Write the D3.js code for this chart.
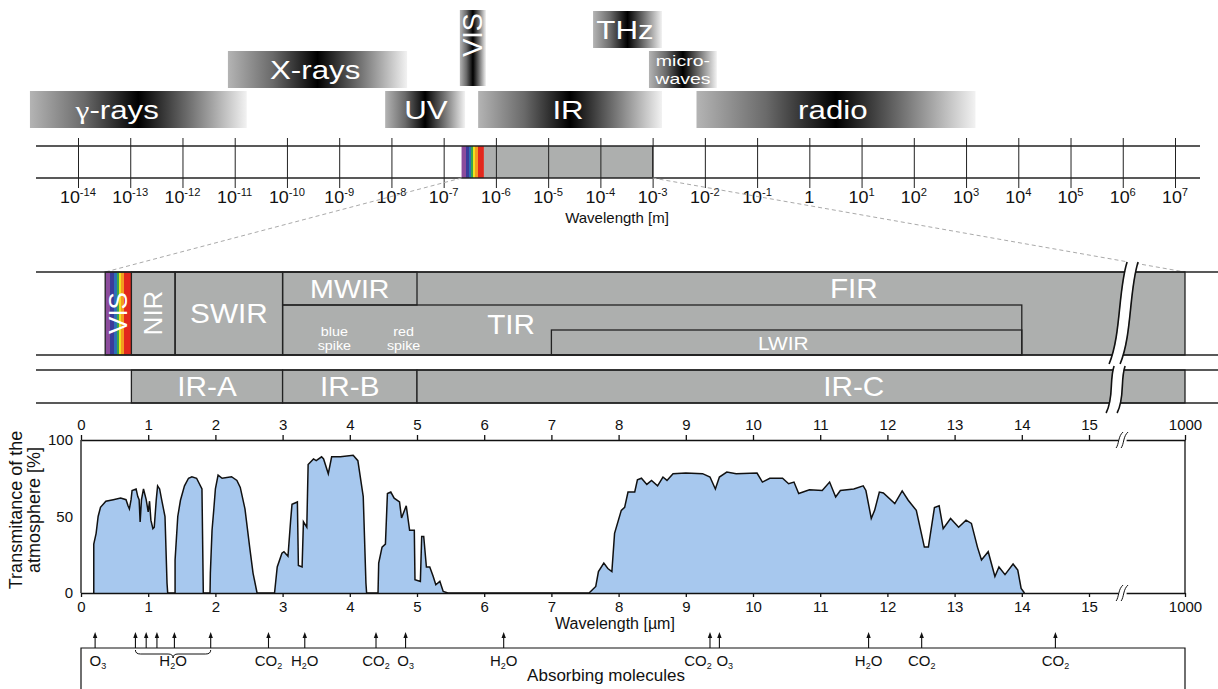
<!DOCTYPE html>
<html>
<head>
<meta charset="utf-8">
<script src="https://d3js.org/d3.v7.min.js"></script>
<style>
  body { margin: 0; background: #fff; }
  svg text { font-family: "Liberation Sans", Arial, Helvetica, sans-serif; }
</style>
</head>
<body>
<div id="chart"></div>
<script>
"use strict"

var width = 1218, height = 689;

// --- spectrum overview (exponents of wavelength in m) ---
var bandNames   = ["γ-rays", "X-rays", "UV", "VIS", "IR", "THz", "micro-|waves", "radio"];
var bandFrom    = [-14.92, -11.13, -8.12, -6.69, -6.34, -4.14, -3.07, -2.16];
var bandTo      = [-10.77, -7.70, -6.59, -6.19, -2.82, -2.82, -1.77, 3.18];
var bandLabelAt = [-13.25, -9.46, -7.34, -6.44, -4.62, -3.53, -2.42, 0.45];
var bandRow     = [2, 1, 2, -1, 2, 0, 1, 2];
var decades     = d3.range(-14, 8);
var visibleM    = [2.2e-7, 5.9e-7];
var infraredM   = [5.9e-7, 1e-3];

var rainbowColors  = ["#8c4c9c", "#3b3b99", "#2c6fb6", "#3aa54b", "#f1e11f", "#f39b1f", "#e2281d"];
var rainbowWeights = [12, 10, 7, 6, 6, 7, 18];

// --- infrared sub bands (µm) ---
var visibleUm  = [0.36, 0.75];
var subNames   = ["NIR", "SWIR", "MWIR", "TIR", "LWIR"];
var subFrom    = [0.75, 1.4, 3, 3, 7];
var subTo      = [1.4, 3, 5, 14, 14];
var cieNames   = ["IR-A", "IR-B", "IR-C"];
var cieFrom    = [0.75, 3, 5];
var cieTo      = [3, 5, 1000];
var umTicks    = [0, 1, 2, 3, 4, 5, 6, 7, 8, 9, 10, 11, 12, 13, 14, 15, 1000];

// --- transmittance of the atmosphere [µm, %] ---
var transmittance = [
  [0.19,0],[0.19,32],[0.225,39],[0.255,50],[0.29,56],[0.37,60],[0.48,61],[0.59,62],[0.67,61],[0.70,57],
  [0.72,55],[0.745,61],[0.76,67],[0.82,68],[0.845,63],[0.865,61],[0.88,46.5],[0.90,61],[0.93,68],[0.97,61],
  [1.0,53],[1.02,60],[1.04,47.6],[1.07,42],[1.09,43],[1.12,61],[1.14,70],[1.17,68],[1.20,61],[1.25,50],
  [1.28,6.5],[1.29,0],
  [1.40,0],[1.40,21.6],[1.44,50],[1.48,60.6],[1.54,70],[1.60,75],[1.65,76],[1.72,75],[1.80,68],[1.82,0],
  [1.92,0],[1.925,13],[1.95,41],[1.975,54],[2.0,68],[2.04,77],[2.10,75],[2.24,76],[2.32,73.6],[2.37,69],
  [2.44,55],[2.51,30],[2.56,13],[2.62,0],
  [2.88,0],[2.92,17],[2.99,26],[3.02,27],[3.08,24],[3.12,47.6],[3.14,58],[3.22,59.5],[3.235,18],[3.29,17],
  [3.31,46.5],[3.36,43],[3.38,84],[3.46,87.6],[3.50,86.5],[3.58,89],[3.61,87.6],[3.68,78],[3.73,89],[3.86,89],
  [4.05,90],[4.12,86.5],[4.20,63],[4.24,6.5],[4.25,0],
  [4.42,0],[4.43,19.5],[4.48,30],[4.53,32],[4.56,65],[4.61,66],[4.66,62],[4.74,59.5],[4.77,49],[4.84,57],
  [4.89,41],[4.96,41],[4.97,8.7],[5.05,7.6],[5.07,37],[5.10,37],[5.14,17],[5.19,17],[5.24,11],[5.28,5.4],
  [5.34,7.6],[5.39,1],[5.46,0],
  [7.56,0],[7.66,4.3],[7.70,14],[7.78,19.5],[7.84,16],[7.90,14],[7.94,39],[8.04,54],[8.09,56],[8.14,66],
  [8.24,66],[8.28,74],[8.34,75],[8.42,71],[8.49,73.6],[8.58,70],[8.66,75.8],[8.72,73.6],[8.81,78],[9.0,78.4],
  [9.25,78],[9.36,75.8],[9.44,68],[9.50,75.8],[9.61,79],[9.75,78],[10.06,78.4],[10.14,72.5],[10.25,75],[10.44,75],
  [10.53,71.4],[10.61,72.5],[10.68,65],[10.84,67.5],[11.03,67],[11.14,72.5],[11.23,62.8],[11.30,67],[11.5,68],[11.64,70],
  [11.68,67],[11.76,48.7],[11.81,54],[11.88,66],[11.94,65.4],[12.11,58.4],[12.22,66.7],[12.31,60.6],[12.43,54],[12.55,30],
  [12.61,30],[12.7,55.8],[12.77,57],[12.83,42],[12.94,48.7],[13.06,43],[13.17,47.6],[13.25,45.5],[13.34,30],[13.4,21.6],
  [13.5,27],[13.6,10.8],[13.66,17],[13.75,12],[13.87,19],[13.94,15],[13.99,3],[14.04,0]
];

// --- absorbing molecules ---
var arrowsAt   = [0.21, 0.81, 0.97, 1.13, 1.39, 1.93, 2.79, 3.33, 4.39, 4.83, 6.29, 9.36, 9.50, 11.72, 12.51, 14.5];
var molName    = ["O", "H", "CO", "H", "CO", "O", "H", "CO", "O", "H", "CO", "CO"];
var molSub     = ["3", "2", "2", "2", "2", "3", "2", "2", "3", "2", "2", "2"];
var molTail    = ["", "O", "", "O", "", "", "O", "", "", "O", "", ""];
var molLabelAt = [0.25, 1.37, 2.79, 3.33, 4.39, 4.83, 6.29, 9.18, 9.58, 11.72, 12.51, 14.5];
var waterBrace = [0.81, 1.93];

var grey = "#adafae";

var svg = d3.select("#chart").append("svg")
    .attr("width", width)
    .attr("height", height);

var defs = svg.append("defs");

var barGrad = defs.append("linearGradient").attr("id", "bar");
[[0, "#b4b4b4"], [0.25, "#6a6a6a"], [0.5, "#000"], [0.75, "#777"], [1, "#f2f2f2"]].forEach(function(s) {
  barGrad.append("stop").attr("offset", s[0]).attr("stop-color", s[1]);
});

var rb = defs.append("linearGradient").attr("id", "rainbow");
var tot = d3.sum(rainbowWeights), acc = 0;
rainbowColors.forEach(function(c, i) {
  rb.append("stop").attr("offset", acc / tot).attr("stop-color", c);
  acc += rainbowWeights[i];
  rb.append("stop").attr("offset", acc / tot).attr("stop-color", c);
});

// text helper, sx stretches the glyphs horizontally like the original artwork
function label(g, x, y, s, size, opt) {
  opt = opt || {};
  var tr = "translate(" + x + "," + y + ")" + (opt.rot ? " rotate(-90)" : "") +
           (opt.sx ? " scale(" + opt.sx + ",1)" : "");
  return g.append("text")
      .attr("transform", tr)
      .attr("text-anchor", "middle")
      .attr("fill", opt.fill || "#111")
      .attr("font-size", size)
      .text(s);
}

// ================= top: whole spectrum =================
var xLog = d3.scaleLog().domain([1e-14, 1e7]).range([78, 1175]);
var rowY = [11, 51, 91], rowH = 37;

var bands = svg.append("g");
bandNames.forEach(function(name, i) {
  var x0 = xLog(Math.pow(10, bandFrom[i])), x1 = xLog(Math.pow(10, bandTo[i]));
  var y0 = bandRow[i] < 0 ? 10 : rowY[bandRow[i]];
  var h = bandRow[i] < 0 ? 76 : rowH;
  bands.append("rect")
      .attr("x", x0).attr("y", y0)
      .attr("width", x1 - x0).attr("height", h)
      .attr("fill", "url(#bar)");
  var lx = xLog(Math.pow(10, bandLabelAt[i]));
  if (bandRow[i] < 0) {
    label(bands, lx + 9, y0 + 25, name, 27, { rot: true, fill: "#fff" });
  } else if (name.indexOf("|") >= 0) {
    var parts = name.split("|");
    label(bands, lx, y0 + 15, parts[0], 15, { fill: "#fff", sx: 1.3 });
    label(bands, lx, y0 + 33, parts[1], 15, { fill: "#fff", sx: 1.3 });
  } else if (name.charAt(0) === "γ") {
    var g = label(bands, lx, y0 + h / 2 + 9, "", 25, { fill: "#fff", sx: 1.25 });
    g.append("tspan").style("font-family", "'Liberation Serif', 'DejaVu Serif', serif").text("γ");
    g.append("tspan").text(name.slice(1));
  } else {
    label(bands, lx, y0 + h / 2 + 9, name, 25, { fill: "#fff", sx: 1.25 });
  }
});

var logAxis = svg.append("g");
logAxis.append("rect")
    .attr("x", xLog(visibleM[0])).attr("y", 146)
    .attr("width", xLog(visibleM[1]) - xLog(visibleM[0])).attr("height", 32)
    .attr("fill", "url(#rainbow)");
logAxis.append("rect")
    .attr("x", xLog(infraredM[0])).attr("y", 146)
    .attr("width", xLog(infraredM[1]) - xLog(infraredM[0])).attr("height", 32)
    .attr("fill", grey);
[146, 178].forEach(function(y) {
  logAxis.append("line").attr("x1", 36).attr("x2", 1200).attr("y1", y).attr("y2", y)
      .attr("stroke", "#222").attr("stroke-width", 1.3);
});
logAxis.append("line")
    .attr("x1", xLog(infraredM[1])).attr("x2", xLog(infraredM[1]))
    .attr("y1", 146).attr("y2", 178).attr("stroke", "#222");

var ticks = logAxis.append("g")
    .attr("transform", "translate(0,138)")
    .call(d3.axisBottom(xLog).tickValues(decades.map(function(e) { return Math.pow(10, e); }))
        .tickSize(50).tickFormat(""));
ticks.select(".domain").remove();
ticks.selectAll("line").attr("stroke", "#222");

decades.forEach(function(e) {
  var t = logAxis.append("text")
      .attr("transform", "translate(" + xLog(Math.pow(10, e)) + ",203) scale(1.12,1)")
      .attr("text-anchor", "middle").attr("font-size", 16).attr("fill", "#111");
  if (e === 0) { t.text("1"); return; }
  t.append("tspan").text("10");
  t.append("tspan").attr("dy", -7).attr("font-size", 10).text(e);
});
label(svg, 617, 223, "Wavelength [m]", 15);

// ================= infrared detail =================
var xUm = d3.scaleLinear().domain([0, 15.8, 1000]).range([81, 81 + 15.8 * 67.2, 1185]);

svg.append("g").selectAll("line")
    .data([[xLog(visibleM[0]), 178, xUm(visibleUm[0]), 272], [xLog(infraredM[1]), 178, xUm(1000), 272]])
  .join("line")
    .attr("x1", function(d) { return d[0]; }).attr("y1", function(d) { return d[1]; })
    .attr("x2", function(d) { return d[2]; }).attr("y2", function(d) { return d[3]; })
    .attr("stroke", "#aaa").attr("stroke-dasharray", "4,3");

var det = svg.append("g");
var top1 = 272, bot1 = 355, mid1 = 305, lw1 = 330;

det.append("rect").attr("x", xUm(visibleUm[1])).attr("y", top1)
    .attr("width", xUm(1000) - xUm(visibleUm[1])).attr("height", bot1 - top1).attr("fill", grey);
det.append("rect").attr("x", xUm(visibleUm[0])).attr("y", top1)
    .attr("width", xUm(visibleUm[1]) - xUm(visibleUm[0])).attr("height", bot1 - top1)
    .attr("fill", "url(#rainbow)");

var subY = { NIR: [top1, bot1], SWIR: [top1, bot1], MWIR: [top1, mid1], TIR: [mid1, bot1], LWIR: [lw1, bot1] };
subNames.forEach(function(n, i) {
  det.append("rect")
      .attr("x", xUm(subFrom[i])).attr("y", subY[n][0])
      .attr("width", xUm(subTo[i]) - xUm(subFrom[i])).attr("height", subY[n][1] - subY[n][0])
      .attr("fill", "none").attr("stroke", "#222").attr("stroke-width", 1.3);
});
det.append("rect").attr("x", xUm(visibleUm[0])).attr("y", top1)
    .attr("width", xUm(1000) - xUm(visibleUm[0])).attr("height", bot1 - top1)
    .attr("fill", "none").attr("stroke", "#222").attr("stroke-width", 1.3);

var w = { fill: "#fff", sx: 1.1 };
label(det, xUm(0.555) + 9, 313, "VIS", 26, { rot: true, fill: "#fff" });
label(det, xUm(1.075) + 9, 313, "NIR", 26, { rot: true, fill: "#fff" });
label(det, xUm(2.2), 323, "SWIR", 27, w);
label(det, xUm(4), 298, "MWIR", 26, w);
label(det, xUm(11.5), 298, "FIR", 27, w);
label(det, xUm(6.4), 334, "TIR", 27, w);
label(det, xUm(10.45), 350, "LWIR", 19, w);
[["blue", 3.77], ["red", 4.8]].forEach(function(s) {
  label(det, xUm(s[1]), 336, s[0], 13, w);
  label(det, xUm(s[1]), 350, "spike", 13, w);
});

var top2 = 370, bot2 = 403;
cieNames.forEach(function(n, i) {
  det.append("rect")
      .attr("x", xUm(cieFrom[i])).attr("y", top2)
      .attr("width", xUm(cieTo[i]) - xUm(cieFrom[i])).attr("height", bot2 - top2)
      .attr("fill", grey).attr("stroke", "#222").attr("stroke-width", 1.3);
  label(det, xUm(i === 2 ? 11.5 : (cieFrom[i] + cieTo[i]) / 2), 396, n, 27, w);
});
[top1, bot1, top2, bot2].forEach(function(y) {
  det.append("line").attr("x1", 36).attr("x2", width).attr("y1", y).attr("y2", y)
      .attr("stroke", "#222").attr("stroke-width", 1.5);
});

// scale breaks in the bands
var bx = xUm(15.5);
[["M" + (bx + 10) + ",262 C" + (bx + 1) + ",290 " + (bx + 4) + ",335 " + (bx - 8) + ",364"],
 ["M" + (bx - 3) + ",366 C" + (bx - 8) + ",380 " + (bx - 3) + ",398 " + (bx - 11) + ",413"]].forEach(function(p) {
  det.append("path").attr("d", p[0]).attr("fill", "none").attr("stroke", "#fff").attr("stroke-width", 10);
  [-5.5, 5.5].forEach(function(dx) {
    det.append("path").attr("d", p[0]).attr("transform", "translate(" + dx + ",0)")
        .attr("fill", "none").attr("stroke", "#111").attr("stroke-width", 1.6);
  });
});

// ================= transmittance chart =================
var yT = d3.scaleLinear().domain([0, 100]).range([593, 440]);
var chart = svg.append("g");

chart.append("path")
    .datum(transmittance)
    .attr("d", d3.area().x(function(d) { return xUm(d[0]); }).y0(yT(0)).y1(function(d) { return yT(d[1]); }))
    .attr("fill", "#a7c8ee");
chart.append("path")
    .datum(transmittance)
    .attr("d", d3.line().x(function(d) { return xUm(d[0]); }).y(function(d) { return yT(d[1]); }))
    .attr("fill", "none").attr("stroke", "#111").attr("stroke-width", 1.5);

var fmt = d3.format("d");
var axTop = chart.append("g").attr("transform", "translate(0," + yT(100) + ")")
    .call(d3.axisTop(xUm).tickValues(umTicks).tickFormat(fmt).tickSize(5).tickSizeOuter(0).tickPadding(5));
var axBot = chart.append("g").attr("transform", "translate(0," + yT(0) + ")")
    .call(d3.axisBottom(xUm).tickValues(umTicks).tickFormat(fmt).tickSize(4).tickSizeOuter(0).tickPadding(4));
var axLeft = chart.append("g").attr("transform", "translate(" + xUm(0) + ",0)")
    .call(d3.axisLeft(yT).tickValues([0, 50, 100]).tickSize(0).tickPadding(8));
axLeft.select(".domain").remove();
[axTop, axBot, axLeft].forEach(function(a) {
  a.selectAll("text").attr("font-size", 15).attr("fill", "#111")
      .style("font-family", "'Liberation Sans', Arial, sans-serif");
  a.selectAll("line, .domain").attr("stroke", "#111").attr("stroke-width", 1.3);
});
[xUm(0), xUm(1000)].forEach(function(x) {
  chart.append("line").attr("x1", x).attr("x2", x).attr("y1", yT(100)).attr("y2", yT(0))
      .attr("stroke", "#111").attr("stroke-width", 1.3);
});
[yT(100), yT(0)].forEach(function(y) {
  chart.append("rect").attr("x", bx - 4).attr("y", y - 2).attr("width", 8).attr("height", 4).attr("fill", "#fff");
  [-2.5, 2.5].forEach(function(dx) {
    chart.append("path")
        .attr("d", "M" + (bx + dx - 4) + "," + (y + 8) + " C" + (bx + dx - 1) + "," + (y + 4) + " " + (bx + dx - 2) + "," + (y - 4) + " " + (bx + dx + 3) + "," + (y - 8))
        .attr("fill", "none").attr("stroke", "#111").attr("stroke-width", 1);
  });
});

label(chart, 22, 510, "Transmitance of the", 18, { rot: true });
label(chart, 40, 510, "atmosphere [%]", 18, { rot: true });
label(chart, 615, 629, "Wavelength [µm]", 16);

// ================= absorbing molecules =================
var mol = svg.append("g");
mol.append("path")
    .attr("d", "M" + xUm(0) + "," + (height + 5) + " V648 H" + xUm(1000) + " V" + (height + 5))
    .attr("fill", "none").attr("stroke", "#111").attr("stroke-width", 1.2);
arrowsAt.forEach(function(a) {
  var x = xUm(a);
  mol.append("line").attr("x1", x).attr("x2", x).attr("y1", 648).attr("y2", 636)
      .attr("stroke", "#111").attr("stroke-width", 1.1);
  mol.append("path").attr("d", "M" + x + ",632 L" + (x - 2.2) + ",638 L" + (x + 2.2) + ",638 Z").attr("fill", "#111");
});
molName.forEach(function(n, i) {
  var t = mol.append("text").attr("x", xUm(molLabelAt[i])).attr("y", 666)
      .attr("text-anchor", "middle").attr("font-size", 15).attr("fill", "#111");
  t.append("tspan").text(n);
  t.append("tspan").attr("font-size", 9).attr("dy", 3).text(molSub[i]);
  if (molTail[i]) t.append("tspan").attr("dy", -3).text(molTail[i]);
});
var b0 = xUm(waterBrace[0]), b1 = xUm(waterBrace[1]), bm = (b0 + b1) / 2;
mol.append("path")
    .attr("d", "M" + b0 + ",650 Q" + b0 + ",654 " + (b0 + 5) + ",654 L" + (bm - 5) + ",654 Q" + bm + ",654 " + bm + ",658" +
               " Q" + bm + ",654 " + (bm + 5) + ",654 L" + (b1 - 5) + ",654 Q" + b1 + ",654 " + b1 + ",650")
    .attr("fill", "none").attr("stroke", "#111").attr("stroke-width", 1);
label(mol, 606, 681, "Absorbing molecules", 17);

</script>
</body>
</html>
